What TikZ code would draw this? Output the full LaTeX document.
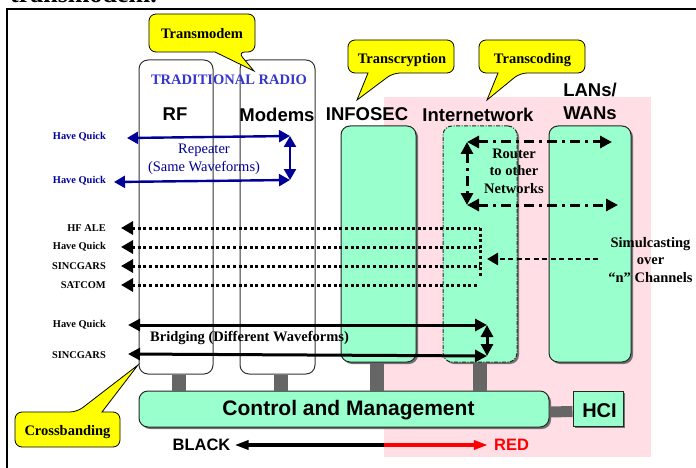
\documentclass[tikz,border=0pt]{standalone}
\usepackage{fontspec}
\setmainfont{Liberation Serif}
\newfontfamily\headfont{Liberation Sans}
\usepackage{tikz}
\usetikzlibrary{arrows.meta,positioning,shadows}
\usepackage{xcolor}
\definecolor{boxgreen}{HTML}{99FFCC}
\definecolor{calloutyellow}{HTML}{FFFF00}
\definecolor{redzone}{HTML}{FFDFE5}
\definecolor{radioblue}{HTML}{3535CF}
\definecolor{repeaterblue}{HTML}{000099}
\definecolor{linkgray}{HTML}{666666}
\definecolor{framedark}{HTML}{333333}
\definecolor{redline}{HTML}{FF0000}

\tikzset{
  radiobox/.style={draw=framedark,line width=1pt,fill=white,rounded corners=9pt,inner sep=0pt,minimum height=314pt},
  greenbox/.style={draw=black!85,line width=1pt,fill=boxgreen,rounded corners=9pt,inner sep=0pt,
    drop shadow={shadow xshift=2pt,shadow yshift=-2pt,fill=black!55,opacity=1}},
  coltitle/.style={font=\headfont\bfseries\fontsize{18.5}{24}\selectfont,inner sep=0pt},
  callouttext/.style={font=\bfseries\fontsize{14.5}{17.5}\selectfont,inner sep=0pt,anchor=base},
  calloutshape/.style={draw=black,line width=0.8pt,fill=calloutyellow,rounded corners=7pt},
  sidelabel/.style={font=\bfseries\fontsize{10.4}{12}\selectfont,inner sep=0pt,anchor=east},
  notetext/.style={font=\bfseries\fontsize{14.5}{17.5}\selectfont,inner sep=0pt,align=center},
  link/.style={draw=linkgray,line width=14pt},
  bluearrow/.style={draw=repeaterblue,line width=2.4pt,arrows={Triangle[length=11pt,width=12pt]-Triangle[length=11pt,width=12pt]}},
  dotarrow/.style={line width=3pt,dash pattern=on 3pt off 2.6pt,arrows={Triangle[length=12pt,width=13pt]-}},
  dotline/.style={line width=3pt,dash pattern=on 3pt off 2.6pt},
  simarrow/.style={line width=2.6pt,dash pattern=on 5pt off 3.5pt,arrows={-Triangle[length=11pt,width=12pt]}},
  routerarrow/.style={line width=3pt,dash pattern=on 10pt off 5pt on 3pt off 5pt,arrows={Triangle[length=12pt,width=12pt]-Triangle[length=12pt,width=12pt]}},
  bridgearrow/.style={line width=3pt,arrows={Triangle[length=12pt,width=12pt]-Triangle[length=12pt,width=12pt]}},
  zonearrow/.style={line width=3.3pt,arrows={-Triangle[length=14pt,width=9pt]}}
}

\begin{document}
\begin{tikzpicture}[x=1pt,y=-1pt]
  \useasboundingbox (0,0) rectangle (696,468);
  \clip (0,0) rectangle (696,468);

  \node[anchor=base west,inner sep=0pt,font=\bfseries\fontsize{26}{30}\selectfont] (pagetext) at (10,3) {transmodem.};
  \draw[line width=2pt] (7,480) -- (7,9) -- (705,9);

  \fill[redzone] (384,97) rectangle (651,457);

  \node[radiobox,minimum width=74pt] (rf) at (176,217) {};
  \node[radiobox,minimum width=75pt] (modems) at (277.5,217) {};
  \node[greenbox,minimum width=75pt,minimum height=236pt] (infosec) at (378.5,244) {};
  \node[greenbox,dash pattern=on 4pt off 1.5pt on 1pt off 1.5pt,minimum width=74pt,minimum height=236pt] (inet) at (480,244) {};
  \node[greenbox,minimum width=82pt,minimum height=236pt] (lanwan) at (590,244) {};
  \node[greenbox,minimum width=410pt,minimum height=36pt] (cm) at (344,409) {};
  \node[greenbox,rounded corners=0pt,minimum width=50pt,minimum height=35pt] (hci) at (598,408.5) {};

  \draw[link] ([xshift=3pt]rf.south) -- ([xshift=3pt]rf.south |- cm.north);
  \draw[link] ([xshift=3pt]modems.south) -- ([xshift=3pt]modems.south |- cm.north);
  \draw[link] ([xshift=-1.5pt]infosec.south) -- ([xshift=-1.5pt]infosec.south |- cm.north);
  \draw[link] (inet.south) -- (inet.south |- cm.north);
  \draw[draw=linkgray,line width=11pt] ([yshift=-3pt]cm.east) -- ([yshift=-3pt]hci.west);

  \node[font=\headfont\bfseries\fontsize{21}{26}\selectfont,inner sep=0pt] (cmtext) at (348.5,410) {Control and Management};
  \node[font=\headfont\bfseries\fontsize{20}{24}\selectfont,inner sep=0pt] (hcitext) at (599.5,411) {HCI};

  \node[coltitle] (rftitle) at (175,114.5) {RF};
  \node[coltitle] (modemstitle) at (277,114.5) {Modems};
  \node[coltitle] (infosectitle) at (367,114.5) {INFOSEC};
  \node[coltitle] (inettitle) at (478,114.5) {Internetwork};
  \node[coltitle,align=left] (lanwantitle) at (590,101) {LANs/\\[-1pt]WANs};
  \node[font=\bfseries\fontsize{14.5}{17.5}\selectfont,text=radioblue,inner sep=0pt] (radiotitle) at (229,80) {TRADITIONAL RADIO};

  \draw[calloutshape] (215,52) -- (149,52) -- (149,14) -- (255,14) -- (255,52) -- (238,52) [sharp corners] -- (254,71) -- cycle;
  \node[callouttext] (transmodem) at (202,38.5) {Transmodem};
  \draw[calloutshape] (368,73) -- (348,73) -- (348,40) -- (454,40) -- (454,73) -- (393,73) [sharp corners] -- (357,100) -- cycle;
  \node[callouttext] (transcryption) at (402,63.5) {Transcryption};
  \draw[calloutshape] (498,73) -- (479,73) -- (479,40) -- (585,40) -- (585,73) -- (520,73) [sharp corners] -- (487,100) -- cycle;
  \node[callouttext] (transcoding) at (532.5,63.5) {Transcoding};
  \draw[calloutshape] (102,412) -- (120,412) -- (120,447) -- (15,447) -- (15,412) -- (77,412) [sharp corners] -- (138,365) -- cycle;
  \node[callouttext] (crossbanding) at (67.5,435) {Crossbanding};

  \node[sidelabel,text=repeaterblue] (hqa) at (106,137) {Have Quick};
  \node[sidelabel,text=repeaterblue] (hqb) at (106,181) {Have Quick};
  \coordinate (repa) at (290,136);
  \coordinate (repb) at (290,180);
  \draw[bluearrow] ([xshift=21pt,yshift=-1pt]hqa.east) -- (repa);
  \draw[bluearrow] ([xshift=8pt,yshift=-1pt]hqb.east) -- (repb);
  \draw[bluearrow] (repa) -- (repb);
  \node[font=\fontsize{14.5}{18}\selectfont,text=repeaterblue,inner sep=0pt,align=center] (repeater) at (204,159) {Repeater\\(Same Waveforms)};

  \node[sidelabel] (hfale) at (106,228) {HF ALE};
  \node[sidelabel] (hqc) at (106,247) {Have Quick};
  \node[sidelabel] (sincgarsa) at (106,266) {SINCGARS};
  \node[sidelabel] (satcom) at (106,285) {SATCOM};
  \coordinate (simbus) at (480,228);
  \draw[dotarrow] ([xshift=15pt]hfale.east) -- (hfale.east -| simbus);
  \draw[dotarrow] ([xshift=15pt]hqc.east) -- (hqc.east -| simbus);
  \draw[dotarrow] ([xshift=15pt]sincgarsa.east) -- (sincgarsa.east -| simbus);
  \draw[dotarrow] ([xshift=15pt]satcom.east) -- ([xshift=-3pt]satcom.east -| simbus);
  \draw[dotline] (simbus) -- ++(0,48);
  \node[notetext] (simcast) at (650.5,260) {Simulcasting\\over\\``n'' Channels};
  \draw[simarrow] ([xshift=-10pt,yshift=1pt]simcast.west) -- ([xshift=7pt,yshift=1pt]simbus |- simcast.west);

  \coordinate (rtopl) at (467,142);
  \coordinate (rtopr) at (612,142);
  \coordinate (rbotl) at (467,205);
  \coordinate (rbotr) at (618,205);
  \draw[routerarrow] (rtopl) -- (rtopr);
  \draw[routerarrow] (rbotl) -- (rbotr);
  \draw[routerarrow] (rtopl) -- (rbotl);
  \node[notetext] (router) at (514,171) {Router\\to other\\Networks};

  \node[sidelabel] (hqd) at (106,325) {Have Quick};
  \node[sidelabel] (sincgarsb) at (106,355) {SINCGARS};
  \coordinate (bridgea) at (487,325);
  \coordinate (bridgeb) at (487,356);
  \draw[bridgearrow] ([xshift=22pt]hqd.east) -- (bridgea);
  \draw[bridgearrow] ([xshift=22pt,yshift=1pt]sincgarsb.east) -- (bridgeb);
  \draw[bridgearrow] (bridgea) -- (bridgeb);
  \node[notetext] (bridging) at (249.5,338) {Bridging (Different Waveforms)};

  \node[font=\headfont\bfseries\fontsize{16.5}{20}\selectfont,inner sep=0pt] (blacklbl) at (201.5,445) {BLACK};
  \node[font=\headfont\bfseries\fontsize{16.5}{20}\selectfont,text=redline,inner sep=0pt] (redlbl) at (511.5,445) {RED};
  \coordinate (zoneedge) at (384,445);
  \draw[zonearrow] (zoneedge) -- ([xshift=4pt]blacklbl.east);
  \draw[zonearrow,draw=redline,fill=redline] (zoneedge) -- ([xshift=-6pt]redlbl.west);
\end{tikzpicture}
\end{document}
